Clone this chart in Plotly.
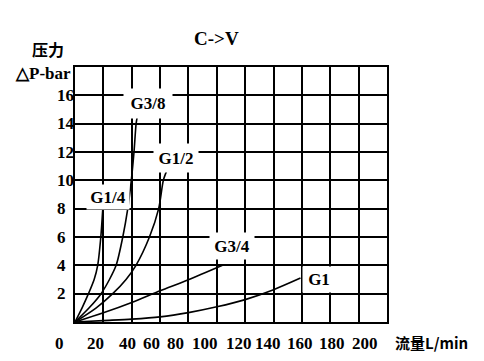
import plotly.graph_objects as go

# ---- data (flow L/min vs pressure drop bar) ----
g14_x = [0, 5, 9.5, 13.5, 16, 18.2, 19.6]
g14_y = [0, 1, 2, 3, 4, 6, 8]
g38_x = [0, 10, 18.4, 24.3, 29, 33.7, 37.2, 39.7, 41.6, 43.1, 43.9]
g38_y = [0, 1, 2, 3, 4, 6, 8, 10, 12, 14, 14.5]
g12_x = [0, 15, 26.6, 36, 43, 52.5, 59, 62.3, 64.8]
g12_y = [0, 1, 2, 3, 4, 6, 8, 10, 10.7]
g34_x = [0, 20, 40, 60, 80, 104]
g34_y = [0, 0.65, 1.38, 2.2, 2.98, 4.0]
g1_x = [0, 20, 40, 60, 80, 100, 120, 140, 159]
g1_y = [0, 0.1, 0.2, 0.36, 0.66, 1.07, 1.58, 2.28, 3.1]

series_names = ["G1/4", "G3/8", "G1/2", "G3/4", "G1"]
series_x = [g14_x, g38_x, g12_x, g34_x, g1_x]
series_y = [g14_y, g38_y, g12_y, g34_y, g1_y]

x_tick_labels = ["0", "20", "40", "60", "80", "100", "120", "140", "160", "180", "200"]
y_tick_labels = ["2", "4", "6", "8", "10", "12", "14", "16"]
y_tick_values = [2, 4, 6, 8, 10, 12, 14, 16]

title_text = "C->V"
y_title_1 = "压力"
y_title_2 = "△P-bar"
x_title = "流量L/min"

# ---- layout constants ----
# the page body has an 8px margin, so the figure is drawn 8px smaller
OFF = 8
W, H = 484 - 2 * OFF, 361 - 2 * OFF
PL, PT, PR, PB = 75, 67, 387, 322          # plot area in page pixels
L, T = PL - OFF, PT - OFF
R, B = W - (PR - OFF), H - (PB - OFF)
PW, PH = PR - PL, PB - PT
XMAX, YMAX = 220, 18

def px_x(p):
    return (p - PL) / PW

def px_y(p):
    return 1 - (p - PT) / PH

FONT = "Liberation Serif"
CJK = "Noto Sans CJK SC"

def f(size, family=FONT):
    return dict(family=family, size=size, color="black")

fig = go.Figure()
for xs, ys in zip(series_x, series_y):
    fig.add_trace(go.Scatter(x=xs, y=ys, mode="lines",
                             line=dict(color="black", width=1.6, shape="spline", smoothing=0.8),
                             showlegend=False, hoverinfo="skip"))

annotations = []
label_pos = {  # centre (data coords), box w, h
    "G3/8": (51.5, 15.42, 46, 27),
    "G1/2": (71.2, 11.6, 42, 26),
    "G1/4": (23.3, 8.82, 40, 22),
    "G3/4": (110.7, 5.36, 42, 24),
    "G1": (172.4, 3.03, 30, 23),
}
for name in series_names:
    x, y, w, h = label_pos[name]
    annotations.append(dict(x=x, y=y, xref="x", yref="y", text="<b>" + name + "</b>",
                            showarrow=False, bgcolor="white", width=w, height=h,
                            font=f(17), xanchor="center", yanchor="middle"))

x_label_px = [59, 95, 127, 151, 175, 205, 239, 268, 300, 332, 364.5]
for t, p in zip(x_tick_labels, x_label_px):
    annotations.append(dict(x=px_x(p), y=px_y(343), xref="paper", yref="paper",
                            text="<b>" + t + "</b>", showarrow=False,
                            xanchor="center", yanchor="middle", font=f(17)))
for t, v in zip(y_tick_labels, y_tick_values):
    annotations.append(dict(x=px_x(55), y=v, xref="paper", yref="y", text="<b>" + t + "</b>",
                            showarrow=False, xanchor="left", yanchor="middle", font=f(17)))

annotations.append(dict(x=px_x(48), y=px_y(48.5), xref="paper", yref="paper",
                        text="<b>" + y_title_1 + "</b>", showarrow=False,
                        xanchor="center", yanchor="middle", font=f(16, CJK)))
annotations.append(dict(x=px_x(73), y=px_y(73.5), xref="paper", yref="paper",
                        text="<b>" + y_title_2 + "</b>", showarrow=False,
                        xanchor="right", yanchor="middle", font=f(17)))
annotations.append(dict(x=px_x(431), y=px_y(342.5), xref="paper", yref="paper",
                        text="<b>" + x_title + "</b>", showarrow=False,
                        xanchor="center", yanchor="middle", font=f(15, CJK)))
annotations.append(dict(x=px_x(216), y=px_y(39), xref="paper", yref="paper",
                        text="<b>" + title_text + "</b>", showarrow=False,
                        xanchor="center", yanchor="middle", font=f(19)))

fig.update_layout(
    width=W, height=H,
    margin=dict(l=L, r=R, t=T, b=B, pad=0),
    paper_bgcolor="white", plot_bgcolor="white",
    font=dict(family=FONT),
    annotations=annotations,
    xaxis=dict(range=[0, XMAX], dtick=20, tick0=0, showgrid=True, gridcolor="black",
               gridwidth=1.5, showline=True, linecolor="black", linewidth=2, mirror=True,
               zeroline=False, showticklabels=False, ticks="", fixedrange=True),
    yaxis=dict(range=[0, YMAX], dtick=2, tick0=0, showgrid=True, gridcolor="black",
               gridwidth=1.5, showline=True, linecolor="black", linewidth=2, mirror=True,
               zeroline=False, showticklabels=False, ticks="", fixedrange=True),
)

fig.write_html("out.html")
